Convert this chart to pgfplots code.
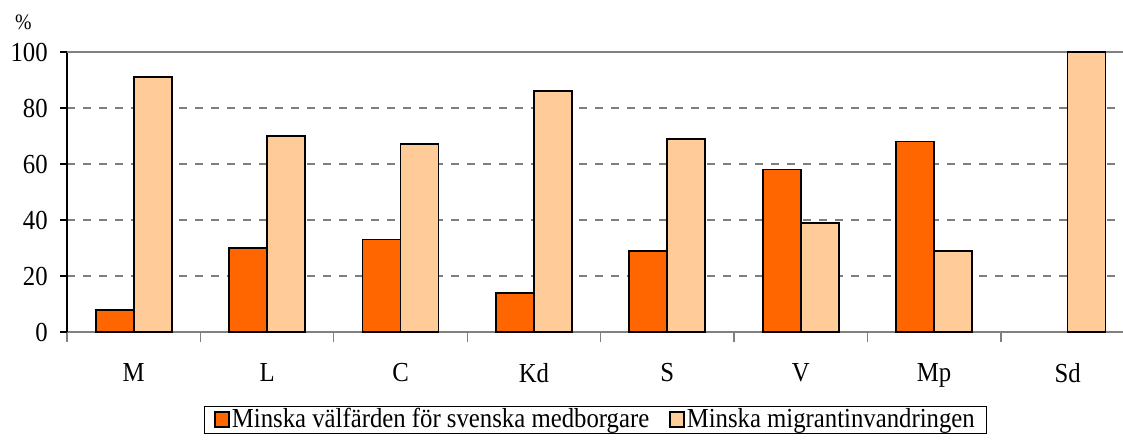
\documentclass[border=0pt]{standalone}
\usepackage{pgfplots}
\pgfplotsset{compat=1.18}
\usepackage{fontspec}
\setmainfont{Liberation Serif}[FakeStretch=0.9]
\definecolor{orangeA}{RGB}{255,102,0}
\definecolor{peach}{RGB}{255,204,153}
\definecolor{gridgray}{RGB}{128,128,128}
\begin{document}
\fontsize{27.5}{32}\selectfont
\begin{tikzpicture}[x=1pt,y=1pt]
\path[use as bounding box] (0,0) rectangle (1123,439);
\begin{scope}
\clip (0,0) rectangle (1123,439);
\begin{axis}[
  at={(67pt,107pt)}, anchor=south west,
  scale only axis, width=1056pt, height=280pt,
  xmin=-0.5, xmax=7.416, ymin=0, ymax=100,
  ybar=0pt, bar width=38pt,
  axis x line*=bottom, axis y line*=left,
  x axis line style={gridgray, line width=1.3pt},
  y axis line style={black, line width=1.2pt},
  xtick={0,...,7},
  xticklabels={M,L,C,Kd,S,V,Mp,Sd},
  major x tick style={draw=none},
  minor xtick={-0.5,0.5,...,7.5},
  minor x tick style={gridgray, line width=1.3pt},
  minor tick length=10pt,
  xticklabel style={yshift=-15pt},
  ytick={0,20,40,60,80},
  extra y ticks={100},
  extra y tick style={grid style={solid, gridgray, line width=1.5pt}},
  major tick length=7pt,
  tick align=outside,
  y tick style={black, line width=1.2pt},
  ymajorgrids,
  grid style={dashed, gridgray, line width=1.3pt, dash pattern=on 8pt off 8pt},
  yticklabel style={xshift=-3pt},
  ticklabel style={font=\fontsize{27.5}{32}\selectfont},
  /pgf/number format/assume math mode=true,
  legend style={at={(0.1297,-0.2643)}, anchor=north west, draw=black, fill=white,
    line width=0.8pt, legend columns=2, font=\fontsize{27.5}{32}\selectfont,
    inner xsep=10pt, inner ysep=1pt,
    nodes={inner ysep=1pt},
    /tikz/every even column/.append style={column sep=18pt}},
  legend image code/.code={\draw[#1, draw=black, line width=1.5pt] (0pt,-7pt) rectangle (14pt,8pt);},
  clip=false,
]
\addplot[fill=orangeA, draw=black, line width=1.8pt] coordinates {(0,8) (1,30) (2,33) (3,14) (4,29) (5,58) (6,68)};
\addplot[fill=peach, draw=black, line width=1.8pt] coordinates {(0,91) (1,70) (2,67) (3,86) (4,69) (5,39) (6,29) (7,100)};
\legend{Minska välfärden för svenska medborgare, Minska migrantinvandringen}
\node[anchor=base west, inner sep=0pt, font=\fontsize{22}{26}\selectfont] at (rel axis cs:-0.0492,1.082) {\%};
\end{axis}
\end{scope}
\end{tikzpicture}
\end{document}
